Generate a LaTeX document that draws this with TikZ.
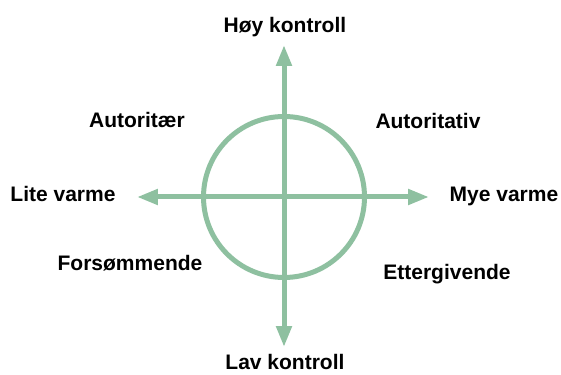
\documentclass[tikz,border=0pt]{standalone}
\usepackage{fontspec}
\setmainfont{Liberation Sans}
\usepackage{xcolor}
\usetikzlibrary{arrows.meta, positioning}

\definecolor{sage}{RGB}{142,192,160}

\begin{document}
\begin{tikzpicture}[
    x=1pt, y=1pt,
    % axes with arrow heads at both ends
    axis/.style={{Triangle[length=21pt, width=15pt]}-{Triangle[length=21pt, width=15pt]},
                 line width=5pt, draw=sage},
    % the ring in the middle
    ring/.style={circle, draw=sage, line width=5pt, minimum size=161pt, inner sep=0pt},
    % the text round the cross
    lbl/.style={font=\fontsize{21}{25}\selectfont\bfseries, anchor=base, inner sep=0pt}
]
\useasboundingbox (-284,-177) rectangle (277,197);

%-------- CROSS AND RING --------
\node[ring] (mid) at (0,0) {};
\coordinate (top)    at (0,152);
\coordinate (bottom) at (0,-150);
\coordinate (left)   at (-147,0);
\coordinate (right)  at (145,0);

\draw[axis] (bottom) -- (top);
\draw[axis] (left)   -- (right);

%-------- AXIS LABELS --------
\node[lbl] (hi)   at (1,164)    {Høy kontroll};
\node[lbl] (lo)   at (1,-172)   {Lav kontroll};
\node[lbl] (cold) at (-221,-5)  {Lite varme};
\node[lbl] (warm) at (220,-5)   {Mye varme};

%-------- QUADRANT LABELS --------
\node[lbl] (q1) at (-147,69)  {Autoritær};
\node[lbl] (q2) at (144,68)   {Autoritativ};
\node[lbl] (q3) at (-154,-74) {Forsømmende};
\node[lbl] (q4) at (163,-82)  {Ettergivende};

\end{tikzpicture}
\end{document}
